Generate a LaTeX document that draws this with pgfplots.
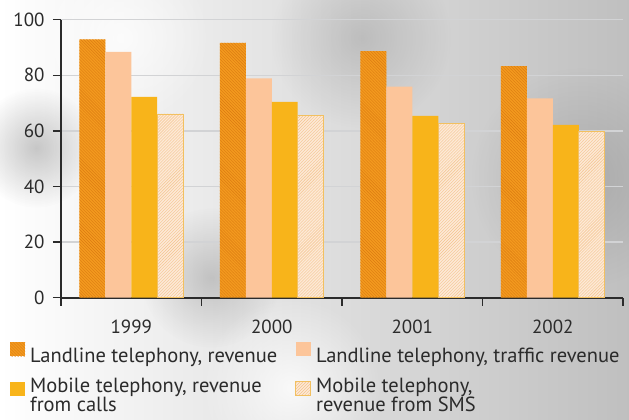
\documentclass[border=0pt]{standalone}
\usepackage{fontspec}
\setmainfont{PT Sans}
\usepackage{pgfplots}
\pgfplotsset{compat=1.18}
\usetikzlibrary{patterns,fadings}
\tikzfading[name=soft, inner color=transparent!0, outer color=transparent!100]
\definecolor{c1}{HTML}{F39A1E}
\definecolor{c1h}{HTML}{DB7A12}
\definecolor{c2}{HTML}{FCC59A}
\definecolor{c3}{HTML}{F8B41A}
\definecolor{c4}{HTML}{FDE9D6}
\definecolor{c4h}{HTML}{F4C48E}
\definecolor{c4e}{HTML}{F2C060}
\definecolor{txt}{HTML}{2B2B2B}
\definecolor{gridc}{HTML}{D2D3D5}
\begin{document}
\begin{tikzpicture}[x=1bp,y=1bp]
\path[use as bounding box] (-61,-121.3) rectangle (568,297.7);
\shade[left color=white, middle color=black!7, right color=black!25] (-61,-121.3) rectangle (568,297.7);
\fill[black!60, path fading=soft, fill opacity=0.35] (-25,150) circle (60);
\fill[black!60, path fading=soft, fill opacity=0.3] (150,20) circle (70);
\fill[black!60, path fading=soft, fill opacity=0.25] (300,260) circle (90);
\fill[black!60, path fading=soft, fill opacity=0.25] (520,120) circle (110);
\fill[white, path fading=soft, fill opacity=0.8] (230,-90) circle (90);
\fill[white, path fading=soft, fill opacity=0.7] (60,260) circle (90);
\begin{axis}[
  at={(0,0)}, anchor=south west,
  scale only axis, width=562bp, height=278bp,
  xmin=-0.5, xmax=3.5, ymin=0, ymax=100,
  axis x line*=bottom, axis y line*=left,
  axis line style={txt, line width=1.6bp},
  ybar,
  /pgf/number format/assume math mode=true,
  xtick={-0.5,0.5,1.5,2.5,3.5}, xticklabels={},
  extra x ticks={0,1,2,3},
  extra x tick labels={1999,2000,2001,2002},
  extra x tick style={major tick length=0pt, tick label style={yshift=-19bp}},
  ytick={0,20,40,60,80,100},
  tick align=outside, major tick length=8bp,
  tick style={txt, line width=1.5bp},
  ymajorgrids, grid style={gridc, line width=1.5bp},
  ticklabel style={font=\fontsize{19bp}{20bp}\selectfont, text=txt},
  yticklabel style={xshift=-5bp},
  legend columns=2,
  legend cell align=left,
  legend style={at={(-0.0907,-0.16)}, anchor=north west, draw=none, fill=none,
    inner sep=0pt, font=\fontsize{20.5bp}{16bp}\selectfont, text=txt,
    nodes={align=left, font=\fontsize{20.5bp}{16bp}\selectfont},
    row sep=10bp,
    /tikz/every odd column/.append style={column sep=3bp},
    /tikz/every even column/.append style={column sep=16bp}},
  legend image code/.code={\path[#1] (0bp,0bp) rectangle (15bp,14bp);},
]
\addplot[bar width=0.185, bar shift=-0.2775, fill=c1, draw=none,
  postaction={pattern=north west lines, pattern color=c1h}]
  coordinates {(0,92.9) (1,91.7) (2,88.7) (3,83.3)};
\addlegendentry{Landline telephony, revenue}
\addplot[bar width=0.185, bar shift=-0.0925, fill=c2, draw=none]
  coordinates {(0,88.4) (1,78.9) (2,75.9) (3,71.7)};
\addlegendentry{Landline telephony, traffic revenue}
\addplot[bar width=0.185, bar shift=0.0925, fill=c3, draw=none]
  coordinates {(0,72.2) (1,70.4) (2,65.4) (3,62.2)};
\addlegendentry{Mobile telephony, revenue\\[-1bp]from calls}
\addplot[bar width=0.185, bar shift=0.2775, fill=c4, draw=c4e, line width=0.8bp,
  postaction={pattern=north east lines, pattern color=c4h}]
  coordinates {(0,66.1) (1,65.7) (2,62.6) (3,59.8)};
\addlegendentry{Mobile telephony,\\[-1bp]revenue from SMS}
\end{axis}
\end{tikzpicture}
\end{document}
